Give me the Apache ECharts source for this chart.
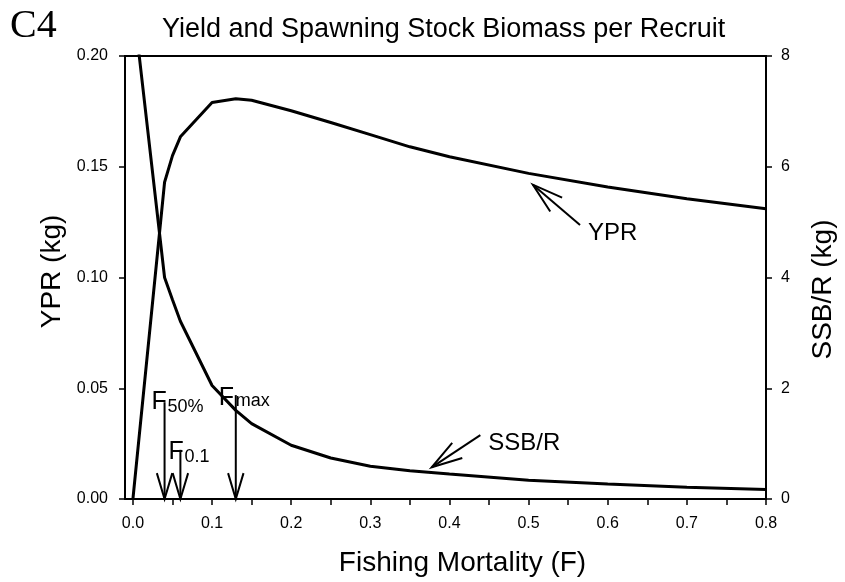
<!DOCTYPE html>
<html>
<head>
<meta charset="utf-8">
<script src="https://cdn.jsdelivr.net/npm/echarts@6/dist/echarts.min.js"></script>
<style>
  html, body { margin: 0; padding: 0; background: #fff; }
  #chart { width: 845px; height: 582px; }
</style>
</head>
<body>
<div id="chart"></div>
<script>
// fishing mortality grid and the two per-recruit curves
var fValues = [0, 0.04, 0.05, 0.06, 0.1, 0.13, 0.15, 0.2, 0.25, 0.3, 0.35, 0.4, 0.5, 0.6, 0.7, 0.8];
var yprValues = [0, 0.143, 0.155, 0.1635, 0.179, 0.1807, 0.180, 0.1753, 0.170, 0.1645, 0.159, 0.1545, 0.147, 0.1409, 0.1356, 0.131];
var ssbValues = [9.0, 4.0, 3.6, 3.21, 2.05, 1.6, 1.36, 0.97, 0.74, 0.59, 0.51, 0.45, 0.34, 0.27, 0.21, 0.17];

// reference points (F50%, F0.1, Fmax)
var refF = [0.04, 0.06, 0.13];
var refSub = ['50%', '0.1', 'max'];

// tick labels
var xTickLabels = [0, 0.1, 0.2, 0.3, 0.4, 0.5, 0.6, 0.7, 0.8];
var xTicks = [0, 0.05, 0.1, 0.15, 0.2, 0.25, 0.3, 0.35, 0.4, 0.45, 0.5, 0.55, 0.6, 0.65, 0.7, 0.75, 0.8];

var font = '"Liberation Sans", Arial, sans-serif';

var chart = echarts.init(document.getElementById('chart'));

function pairs(xs, ys) {
  return xs.map(function (x, i) { return [x, ys[i]]; });
}

// arrow tops (YPR units) and label offsets (px) for the reference arrows
var refTop = [0.0437, 0.0222, 0.0469];
var refLabelOff = [[-13, -13, 16, 9], [-12, -10, 16, 8], [-17, -10, 17, 7]];

function drawHead(tail, tip, len) {
  var ang = Math.atan2(tip[1] - tail[1], tip[0] - tail[0]);
  var w = 0.29;
  var p1 = [tip[0] - len * Math.cos(ang - w), tip[1] - len * Math.sin(ang - w)];
  var p2 = [tip[0] - len * Math.cos(ang + w), tip[1] - len * Math.sin(ang + w)];
  return [
    { type: 'line', shape: { x1: tail[0], y1: tail[1], x2: tip[0], y2: tip[1] }, style: { stroke: '#000', lineWidth: 2 } },
    { type: 'polyline', shape: { points: [p1, tip, p2] }, style: { stroke: '#000', lineWidth: 2, fill: null } }
  ];
}

function refItem(params, api) {
  var i = params.dataIndex;
  var tip = api.coord([api.value(0), 0]);
  var tail = api.coord([api.value(0), refTop[i]]);
  var off = refLabelOff[i];
  var fx = tail[0] + off[0], fy = tail[1] + off[1];
  var kids = drawHead(tail, tip, 27);
  kids.push({ type: 'text', x: fx, y: fy, style: { text: 'F', font: '25px ' + font, fill: '#000', textVerticalAlign: 'alphabetic', textAlign: 'left' } });
  kids.push({ type: 'text', x: fx + off[2], y: fy + off[3], style: { text: refSub[i], font: '18px ' + font, fill: '#000', textVerticalAlign: 'alphabetic', textAlign: 'left' } });
  return { type: 'group', children: kids };
}

// curve call-outs: tail F, tail y, tip F, tip y (YPR units)
var callouts = [
  { name: 'YPR', tail: [0.565, 0.1237], tip: [0.5054, 0.1419] },
  { name: 'SSB/R', tail: [0.439, 0.0288], tip: [0.3775, 0.0143] }
];

function calloutItem(params, api) {
  var c = callouts[params.dataIndex];
  var tail = api.coord(c.tail);
  var tip = api.coord(c.tip);
  var kids = drawHead(tail, tip, 32);
  kids.push({ type: 'text', x: tail[0] + 8, y: tail[1] + 8, style: { text: c.name, font: '24px ' + font, fill: '#000', textVerticalAlign: 'middle', textAlign: 'left' } });
  return { type: 'group', children: kids };
}

var option = {
  backgroundColor: '#fff',
  animation: false,
  title: {
    text: 'Yield and Spawning Stock Biomass per Recruit',
    left: 157,
    top: 11,
    textStyle: { fontFamily: font, fontSize: 27, fontWeight: 'normal', color: '#000' }
  },
  graphic: [{
    type: 'text', left: 10, top: 6,
    style: { text: 'C4', font: '40px "Liberation Serif", "Times New Roman", serif', fill: '#000' }
  }],
  grid: {
    left: 125, right: 72, top: 56, bottom: 80,
    show: true, borderColor: '#000', borderWidth: 2
  },
  xAxis: {
    type: 'value', min: -0.01, max: 0.8,
    name: 'Fishing Mortality (F)', nameLocation: 'middle', nameGap: 50,
    nameTextStyle: { fontFamily: font, fontSize: 28, color: '#000', padding: [0, 0, 0, 34] },
    axisLine: { onZero: false, lineStyle: { color: '#000', width: 2 } },
    axisTick: { customValues: xTicks, length: 6, lineStyle: { color: '#000', width: 1.5 } },
    axisLabel: { customValues: xTickLabels, margin: 17, fontFamily: font, fontSize: 16, color: '#000',
      formatter: function (v) { return v.toFixed(1); } },
    splitLine: { show: false }
  },
  yAxis: [{
    type: 'value', min: 0, max: 0.2, interval: 0.05, position: 'left',
    name: 'YPR (kg)', nameLocation: 'middle', nameGap: 58, nameRotate: 90,
    nameTextStyle: { fontFamily: font, fontSize: 28, color: '#000', padding: [0, 0, 0, 12] },
    axisLine: { show: true, onZero: false, lineStyle: { color: '#000', width: 2 } },
    axisTick: { show: true, length: 6, lineStyle: { color: '#000', width: 1.5 } },
    axisLabel: { margin: 17, fontFamily: font, fontSize: 16, color: '#000',
      formatter: function (v) { return v.toFixed(2); } },
    splitLine: { show: false }
  }, {
    type: 'value', min: 0, max: 8, interval: 2, position: 'right',
    name: 'SSB/R (kg)', nameLocation: 'middle', nameGap: 43, nameRotate: 90,
    nameTextStyle: { fontFamily: font, fontSize: 28, color: '#000', padding: [0, 24, 0, 0] },
    axisLine: { show: true, onZero: false, lineStyle: { color: '#000', width: 2 } },
    axisTick: { show: true, length: 6, lineStyle: { color: '#000', width: 1.5 } },
    axisLabel: { margin: 15, fontFamily: font, fontSize: 16, color: '#000' },
    splitLine: { show: false }
  }],
  series: [{
    name: 'YPR', type: 'line', yAxisIndex: 0,
    data: pairs(fValues, yprValues),
    showSymbol: false, smooth: false,
    lineStyle: { color: '#000', width: 3 }
  }, {
    name: 'SSB/R', type: 'line', yAxisIndex: 1,
    data: pairs(fValues, ssbValues),
    showSymbol: false, smooth: false,
    lineStyle: { color: '#000', width: 3 }
  }, {
    type: 'custom', yAxisIndex: 0, clip: false,
    data: refF.map(function (f) { return [f, 0]; }),
    renderItem: refItem
  }, {
    type: 'custom', yAxisIndex: 0, clip: false,
    data: callouts.map(function (c) { return [c.tip[0], c.tip[1]]; }),
    renderItem: calloutItem
  }]
};

chart.setOption(option);
</script>
</body>
</html>
